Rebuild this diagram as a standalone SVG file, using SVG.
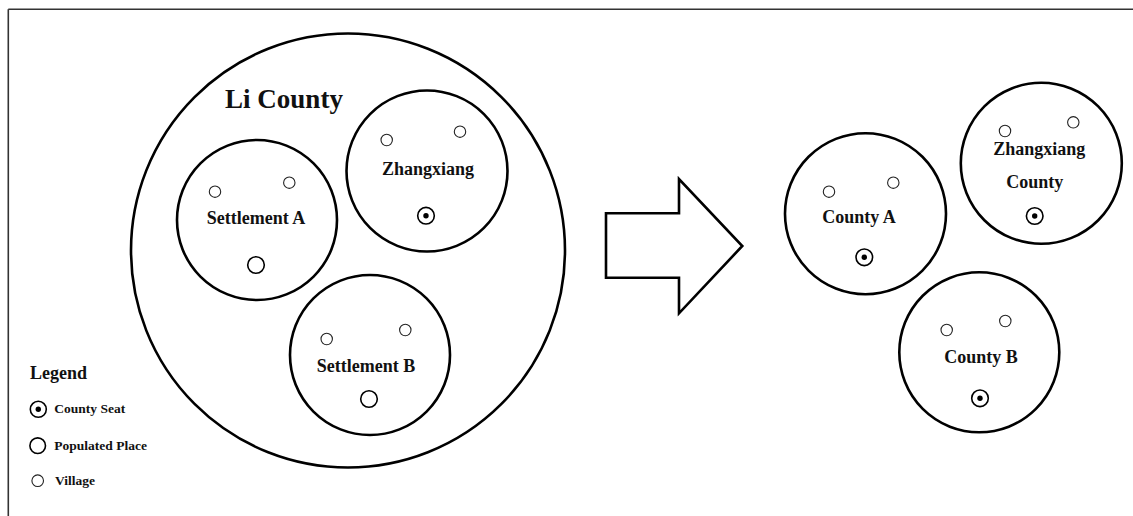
<svg xmlns="http://www.w3.org/2000/svg" width="1133" height="516" viewBox="0 0 1133 516">
<style>
.big{fill:none;stroke:#000;stroke-width:2.6}
.vil{fill:#fff;stroke:#222;stroke-width:1.1}
.pop{fill:#fff;stroke:#000;stroke-width:1.6}
.seat{fill:#fff;stroke:#000;stroke-width:1.6}
.dot{fill:#000}
text{font-family:"Liberation Serif","Times New Roman",serif;font-weight:bold;fill:#111}
.lbl{font-size:18px;text-anchor:middle}
.leg{font-size:13.5px}
</style>
<rect x="0" y="0" width="1133" height="516" fill="#fff"/>
<path d="M8.3 9.3 H1133 M8.3 9.3 V516" fill="none" stroke="#333" stroke-width="1.6"/>

<g id="li-county">
<circle class="big" cx="348" cy="250.5" r="217"/>
<text x="284" y="108" style="font-size:27px;text-anchor:middle">Li County</text>
</g>

<g id="settlement-a">
<circle class="big" cx="257" cy="220" r="80"/>
<circle class="vil" cx="215" cy="191.7" r="5.7"/>
<circle class="vil" cx="289.3" cy="182.7" r="5.7"/>
<circle class="pop" cx="256" cy="265" r="8.3"/>
<text class="lbl" x="256" y="224">Settlement A</text>
</g>

<g id="zhangxiang">
<circle class="big" cx="427" cy="171" r="80.5"/>
<circle class="vil" cx="386.7" cy="140" r="5.7"/>
<circle class="vil" cx="460" cy="131.7" r="5.7"/>
<circle class="seat" cx="426" cy="215.7" r="8.3"/>
<circle class="dot" cx="426" cy="215.7" r="2.7"/>
<text class="lbl" x="428" y="175">Zhangxiang</text>
</g>

<g id="settlement-b">
<circle class="big" cx="370" cy="355" r="80"/>
<circle class="vil" cx="326.7" cy="339" r="5.7"/>
<circle class="vil" cx="405.3" cy="330" r="5.7"/>
<circle class="pop" cx="369" cy="399" r="8.3"/>
<text class="lbl" x="366" y="371.7">Settlement B</text>
</g>

<g id="connectors">
<polygon points="606,213.3 679,213.3 679,179 742.3,246 679,313.3 679,277.7 606,277.7" fill="#fff" stroke="#000" stroke-width="2.6" stroke-linejoin="miter"/>
</g>

<g id="county-a">
<circle class="big" cx="865.5" cy="213.7" r="80.5"/>
<circle class="vil" cx="829" cy="191.7" r="5.7"/>
<circle class="vil" cx="893.3" cy="182.7" r="5.7"/>
<circle class="seat" cx="864.3" cy="257.3" r="8.3"/>
<circle class="dot" cx="864.3" cy="257.3" r="2.7"/>
<text class="lbl" x="859" y="223.3">County A</text>
</g>

<g id="zhangxiang-county">
<circle class="big" cx="1041.3" cy="163.3" r="80.5"/>
<circle class="vil" cx="1005" cy="131" r="5.7"/>
<circle class="vil" cx="1073.3" cy="122.3" r="5.7"/>
<circle class="seat" cx="1034.7" cy="216" r="8.3"/>
<circle class="dot" cx="1034.7" cy="216" r="2.7"/>
<text class="lbl" x="1039.3" y="155">Zhangxiang</text>
<text class="lbl" x="1034.7" y="188.3">County</text>
</g>

<g id="county-b">
<circle class="big" cx="979.3" cy="352.3" r="80"/>
<circle class="vil" cx="946.7" cy="330" r="5.7"/>
<circle class="vil" cx="1005.3" cy="321" r="5.7"/>
<circle class="seat" cx="980" cy="398.3" r="8.3"/>
<circle class="dot" cx="980" cy="398.3" r="2.7"/>
<text class="lbl" x="981" y="363.3">County B</text>
</g>

<g id="legend">
<text x="30" y="379" style="font-size:18px">Legend</text>
<circle class="seat" cx="38.3" cy="409.3" r="8"/>
<circle class="dot" cx="38.3" cy="409.3" r="2.7"/>
<text class="leg" x="54.3" y="412.5">County Seat</text>
<circle class="pop" cx="37.7" cy="445.7" r="7.8"/>
<text class="leg" x="54.3" y="449.5">Populated Place</text>
<circle class="vil" cx="37.7" cy="480.7" r="5.8"/>
<text class="leg" x="55" y="484.5">Village</text>
</g>
</svg>
